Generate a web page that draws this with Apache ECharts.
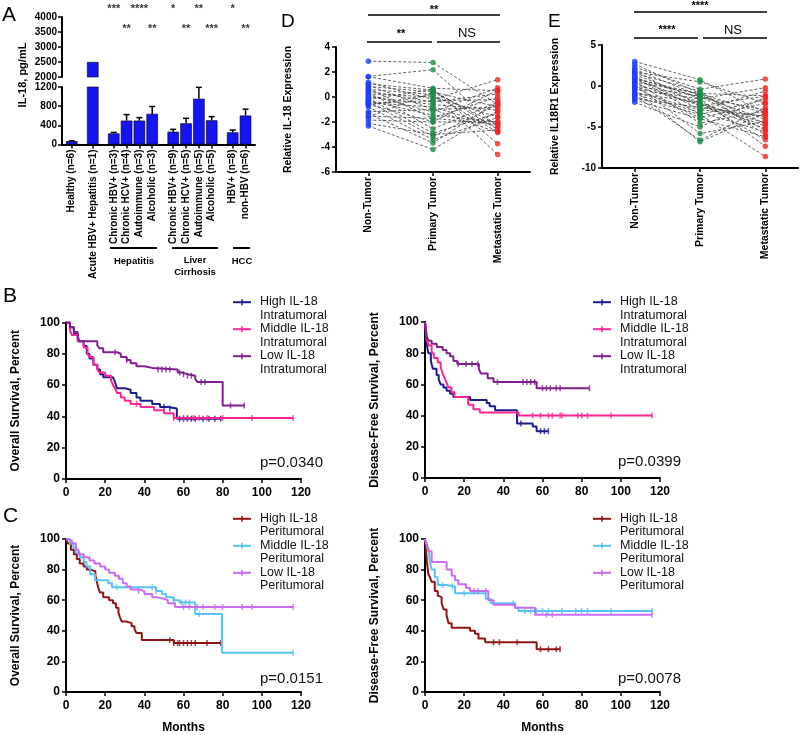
<!DOCTYPE html>
<html><head><meta charset="utf-8">
<script src="https://cdn.jsdelivr.net/npm/echarts@6/dist/echarts.min.js"></script>
<style>html,body{margin:0;padding:0;background:#fff}#c{width:800px;height:735px}</style>
</head><body><div id="c"></div>
<script>
const FONT = '"Liberation Sans", Arial, Helvetica, sans-serif';

// ---------- Panel A data ----------
const aCategories = ['Healthy (n=6)', 'Acute HBV+ Hepatitis (n=1)', 'Chronic HBV+ (n=3)', 'Chronic HCV+ (n=4)', 'Autoimmune (n=3)', 'Alcoholic (n=3)', 'Chronic HBV+ (n=9)', 'Chronic HCV+ (n=5)', 'Autoimmune (n=5)', 'Alcoholic (n=5)', 'HBV+ (n=8)', 'non-HBV (n=6)'];
const aGroupOf = [0, 1, 2, 2, 2, 2, 3, 3, 3, 3, 4, 4];
const aValues = [70, 2500, 232, 498, 498, 639, 267, 442, 954, 505, 253, 604];
const aErrors = [6, 0, 21, 127, 63, 154, 49, 105, 239, 77, 49, 133];
const aSig = ['', '', '***', '**', '****', '**', '*', '**', '**', '***', '*', '**'];
const aSigRow = [0, 0, 1, 2, 1, 2, 1, 2, 1, 2, 1, 2];
const aTopTicks = [2000, 2500, 3000, 3500, 4000];
const aBottomTicks = [0, 400, 800, 1200];

// ---------- Panel D data (IL-18) ----------
const dCategories = ['Non-Tumor', 'Primary Tumor', 'Metastatic Tumor'];
const dNonTumor = [2.87,1.65,1.63,1.18,1.05,0.95,0.84,0.66,0.6,0.47,0.4,0.26,0.15,0.0,-0.1,-0.18,-0.3,-0.39,-0.45,-0.58,-0.65,-0.79,-1.18,-1.32,-1.53,-1.6,-1.84,-2.1,-2.32,-0.5];
const dPrimary = [2.76,2.18,0.7,-0.2,0.55,-1.0,0.4,-1.7,0.2,-0.4,-2.55,0.0,-1.2,-0.6,-2.9,0.6,-1.45,-3.16,-0.8,-1.97,0.2,-3.42,-1.0,-3.68,-1.71,0.39,-2.0,-3.0,-4.2,-0.3];
const dMetastatic = [-0.6,-2.4,0.5,1.39,-2.6,-0.8,-2.2,0.0,-2.8,0.26,-0.4,-1.6,0.74,-1.05,-1.3,-3.74,-2.0,-0.58,-2.37,0.53,-4.6,-1.63,-2.84,-0.39,-2.16,-0.79,-1.97,-2.63,-1.1,-0.2];

// ---------- Panel E data (IL18R1) ----------
const eCategories = ['Non-Tumor', 'Primary Tumor', 'Metastatic Tumor'];
const eNonTumor = [3.0,2.66,2.3,2.03,1.9,1.72,1.55,1.39,1.2,1.05,0.9,0.76,0.6,0.5,0.33,0.2,0.0,-0.2,-0.38,-0.5,-0.72,-0.9,-1.14,-1.3,-1.57,-1.7,-1.99,-0.1,1.0,-1.0];
const ePrimary = [0.76,-0.9,-0.4,-1.2,-2.4,0.5,-0.64,-1.57,-2.9,-3.47,-1.0,-2.0,-4.53,-0.93,-2.42,-5.8,-1.23,-3.9,-1.57,-6.8,-2.92,-1.99,-6.6,-3.47,-2.6,-4.0,-5.0,-2.2,-1.4,-3.2];
const eMetastatic = [-3.3,-1.2,0.85,-4.1,-5.2,-2.1,-6.0,-0.2,-3.7,-1.65,-4.6,-6.55,-3.05,-3.35,-1.23,-4.3,-5.4,-2.1,-7.35,-3.3,-0.64,-4.9,-2.6,-8.6,-3.7,-6.2,-1.4,-4.5,-2.9,-5.6];

// ---------- Kaplan-Meier data: [month, survival % from that month] ----------
const osIntraHigh = [[0,100],[2,97],[4,93],[6,88],[9,85],[10.6,80],[12,77],[14,73],[16,70],[17.4,67],[19,65],[24,64],[25,62],[26,58],[30,57],[33,55],[36,52],[38,50],[44,48],[48,46],[52,45],[56.6,38.5],[79,38.5]];
const osIntraMid = [[0,100],[2,95],[3,92],[6,88],[9,84],[11,80],[12,78],[14,73],[16,70],[17,68],[20,66],[23,63],[24,60],[25,58],[26,55],[28,52],[30,50],[33,48],[38,46],[45,44],[50,42],[55,39],[116,39]];
const osIntraLow = [[0,100],[2,97],[4,94],[6,91],[7,88],[16,85.5],[17,83.5],[19,81],[26,80],[28,78],[31,76],[33,74],[36,72],[40,71],[44,70],[57,68],[59,67],[62,66],[66,64],[67,62],[80,47],[91,47]];
const dfsIntraHigh = [[0,100],[0.5,92],[1,85],[1.7,80],[3,75],[4,70],[5.9,66],[7,63],[8,60],[9.4,58],[11,56],[12.8,54],[14.5,52],[23,50],[31.5,48],[33,46],[35.8,43.5],[47,35],[55,33],[57,30],[63,30]];
const dfsIntraMid = [[0,100],[0.5,93],[1,88],[2,85],[3.4,80],[4.5,77],[6.5,74],[8,71],[9,67],[10,64],[11,61],[12,58],[13.5,55],[15,52],[22,47],[24.7,44],[28,42],[47.8,40],[116,40]];
const dfsIntraLow = [[0,100],[0.5,95],[1,90],[2,88],[3.4,86],[6,84],[9,82],[11,80],[12.8,78],[14.5,75],[16.5,73],[27.5,70],[28.5,67],[32,64],[35,61.5],[57,57.5],[84,57.5]];
const osPeriHigh = [[0,100],[1,97],[2.5,93],[4,90],[5.5,87],[7,84],[9,82],[10.6,80],[12,79],[15,76],[15.8,72],[16.5,68],[17.3,65],[19,62],[22,60],[24,58],[25.5,55],[26.8,52],[27.5,49],[28.5,46],[31,45],[33.5,43],[35,41],[36,38.5],[38.7,34],[55,32],[79.6,32]];
const osPeriMid = [[0,100],[2,97],[3.7,94],[5,91],[7,88],[9,85],[10.5,82],[12.3,77],[14.8,73],[21.6,71],[23.5,68.5],[46,66],[49,64],[51,62],[54.9,60],[58,58.5],[66,51],[79.6,25.7],[116,25.7]];
const osPeriLow = [[0,100],[1,99],[3,97],[5,93],[6.5,90],[9,88],[12,86],[14.5,84],[17.5,82],[20,80],[22,78],[25,76],[27,74],[29,71],[31,69],[33,67],[37,66],[40,64],[44,62],[46,61],[50,60],[52,58],[55.7,55.5],[116,55.5]];
const dfsPeriHigh = [[0,100],[0.5,92],[1,85],[1.7,77],[2.5,75],[3.4,72],[5,66],[6.5,63],[7.5,62],[8.5,58],[9.5,54],[11,50],[12,45],[13.6,42],[23,40],[25.5,38],[27.3,35],[30.7,32.5],[57,28],[69,28]];
const dfsPeriMid = [[0,100],[0.7,97],[1.7,94],[2.5,85],[3.4,80],[5,75],[6.5,70],[11,69],[15.3,64.5],[31,61],[33.5,58],[46,55],[47.7,53],[116,53]];
const dfsPeriLow = [[0,100],[1,96],[1.7,92],[3.4,85],[11,80],[13.6,76],[15.3,73],[17,70.5],[21,68],[23,66],[32.3,60],[35,57],[46,55],[56.2,50.5],[116,50.5]];

const osIntraHighCensor = [50,53,58,60,62,64,66,70,73,76,79];
const osIntraMidCensor = [36,55,60,62,65,68,72,80,95,116];
const osIntraLowCensor = [25,31,47,49,51,53,58,60,62,64,69,71,84,91];
const dfsIntraHighCensor = [49,59,61,63];
const dfsIntraMidCensor = [55,59,63,65,69,70,78,80,83,95,116];
const dfsIntraLowCensor = [17,21,24,27,37,50,52,54,56,60,62,64,67,69,84];
const osPeriHighCensor = [53,55,57,58,60,62,64,66,72,79];
const osPeriMidCensor = [26,44,46,55,59,61,63,68,116];
const osPeriLowCensor = [37,60,63,67,70,76,80,90,95,116];
const dfsPeriHighCensor = [35,38,47,59,63,67,69];
const dfsPeriMidCensor = [9,14,20,45,51,54,57,60,63,70,77,80,83,95,116];
const dfsPeriLowCensor = [25,27,31,62,65,116];

const intraNames = ['High IL-18\nIntratumoral', 'Middle IL-18\nIntratumoral', 'Low IL-18\nIntratumoral'];
const periNames = ['High IL-18\nPeritumoral', 'Middle IL-18\nPeritumoral', 'Low IL-18\nPeritumoral'];
const intraColors = ['#1c1c90', '#ff2590', '#801f8f'];
const periColors = ['#8e1515', '#55c3f3', '#c86cf2'];
const pValues = ['p=0.0340', 'p=0.0399', 'p=0.0151', 'p=0.0078'];

// ---------- helpers ----------
const aPos = aValues.map((v, i) => i + aGroupOf[i] * 0.64);
function aLabelAt(v) {
  let best = 0;
  aPos.forEach((p, i) => { if (Math.abs(p - v) < Math.abs(aPos[best] - v)) best = i; });
  return aCategories[best];
}
function axis(o) {
  const type = o.type || 'value';
  const labelBase = { show: true, color: '#000', fontFamily: FONT, fontWeight: 'bold', fontSize: o.labelSize || 10, margin: o.margin || 6, rotate: o.rotate || 0 };
  if (type === 'value') labelBase.formatter = v => String(v);
  return {
    gridIndex: o.grid, type: type, min: o.min, max: o.max, interval: o.interval,
    data: o.data, inverse: o.inverse || false, show: o.show !== false,
    boundaryGap: o.boundaryGap,
    name: o.name || '', nameLocation: 'middle', nameGap: o.nameGap || 30,
    nameTextStyle: { fontFamily: FONT, fontWeight: 'bold', fontSize: o.nameSize || 12, color: '#000' },
    axisLine: { show: true, onZero: false, lineStyle: { color: '#000', width: 2 } },
    axisTick: Object.assign({ show: true, length: 4, inside: false, alignWithLabel: true, lineStyle: { color: '#000', width: 1.5 } }, o.tickExtra || {}),
    axisLabel: Object.assign(labelBase, o.labelExtra || {}),
    splitLine: { show: false }
  };
}
function stepData(curve) {
  const out = [];
  curve.forEach((pt, i) => { if (i > 0) out.push([pt[0], curve[i - 1][1]]); out.push(pt); });
  return out;
}
function survAt(curve, t) {
  let s = curve[0][1];
  curve.forEach(pt => { if (pt[0] <= t) s = pt[1]; });
  return s;
}

// ---------- layout ----------
const grids = [
  { left: 62, top: 0, width: 193, height: 32 },        // 0 A asterisks
  { left: 62, top: 17, width: 193, height: 60 },       // 1 A top segment
  { left: 62, top: 87, width: 193, height: 57.5 },     // 2 A bottom segment
  { left: 336, top: 47, width: 194, height: 125 },     // 3 D
  { left: 602, top: 45, width: 196, height: 123 },     // 4 E
  { left: 66, top: 322.5, width: 235, height: 156.5 }, // 5 B left
  { left: 425, top: 322, width: 235, height: 156 },    // 6 B right
  { left: 66, top: 539, width: 235, height: 156 },     // 7 C left
  { left: 425, top: 539, width: 235, height: 156 }     // 8 C right
];

const xAxes = [
  axis({ grid: 0, min: -0.76, max: 14.3, show: false }),
  axis({ grid: 1, min: -0.76, max: 14.3, show: false }),
  axis({ grid: 2, min: -0.76, max: 14.3, rotate: 90, margin: 5, labelSize: 10,
    tickExtra: { customValues: aPos }, labelExtra: { customValues: aPos, formatter: v => aLabelAt(v) } }),
  axis({ grid: 3, type: 'category', data: dCategories, boundaryGap: true, rotate: 90, margin: 5, labelSize: 10.5 }),
  axis({ grid: 4, type: 'category', data: eCategories, boundaryGap: true, rotate: 90, margin: 5, labelSize: 10.5 }),
  axis({ grid: 5, min: 0, max: 120, interval: 20, labelSize: 12, margin: 8 }),
  axis({ grid: 6, min: 0, max: 120, interval: 20, labelSize: 12, margin: 8 }),
  axis({ grid: 7, min: 0, max: 120, interval: 20, labelSize: 12, margin: 8, name: 'Months', nameGap: 30, nameSize: 12 }),
  axis({ grid: 8, min: 0, max: 120, interval: 20, labelSize: 12, margin: 8, name: 'Months', nameGap: 30, nameSize: 12 })
];
const yAxes = [
  axis({ grid: 0, min: 0, max: 32, inverse: true, show: false }),
  axis({ grid: 1, min: aTopTicks[0], max: aTopTicks[aTopTicks.length - 1], interval: 500, labelSize: 10, margin: 5 }),
  axis({ grid: 2, min: aBottomTicks[0], max: aBottomTicks[aBottomTicks.length - 1], interval: 400, labelSize: 10, margin: 5 }),
  axis({ grid: 3, min: -6, max: 4, interval: 2, labelSize: 10, margin: 6, name: 'Relative IL-18 Expression', nameGap: 42, nameSize: 10.5 }),
  axis({ grid: 4, min: -10, max: 5, interval: 5, labelSize: 10, margin: 6, name: 'Relative IL18R1 Expression', nameGap: 41, nameSize: 10.5 }),
  axis({ grid: 5, min: 0, max: 100, interval: 20, labelSize: 12, margin: 6, name: 'Overall Survival, Percent', nameGap: 44, nameSize: 12 }),
  axis({ grid: 6, min: 0, max: 100, interval: 20, labelSize: 12, margin: 6, name: 'Disease-Free Survival, Percent', nameGap: 44, nameSize: 12 }),
  axis({ grid: 7, min: 0, max: 100, interval: 20, labelSize: 12, margin: 6, name: 'Overall Survival, Percent', nameGap: 44, nameSize: 12 }),
  axis({ grid: 8, min: 0, max: 100, interval: 20, labelSize: 12, margin: 6, name: 'Disease-Free Survival, Percent', nameGap: 44, nameSize: 12 })
];

const series = [];
const BAR_COLOR = '#1414f5';
// A significance stars
series.push({
  type: 'scatter', xAxisIndex: 0, yAxisIndex: 0, symbolSize: 1, silent: true,
  itemStyle: { color: 'rgba(0,0,0,0)' },
  data: aPos.map((x, i) => ({ value: [x, aSigRow[i] === 1 ? 9 : 29], sig: aSig[i] })).filter((d, i) => aSig[i]),
  label: { show: true, position: 'inside', formatter: p => p.data.sig, fontFamily: FONT, fontWeight: 'bold', fontSize: 11, color: '#000' }
});
// A top segment bar (values above the break)
series.push({
  type: 'bar', xAxisIndex: 1, yAxisIndex: 1, barWidth: 11.5, clip: true,
  itemStyle: { color: BAR_COLOR, borderColor: '#000', borderWidth: 0.6 },
  data: aPos.map((x, i) => [x, aValues[i]]).filter(d => d[1] > aTopTicks[0])
});
// A bottom segment bars
series.push({
  type: 'bar', xAxisIndex: 2, yAxisIndex: 2, barWidth: 11.5, clip: true,
  itemStyle: { color: BAR_COLOR, borderColor: '#000', borderWidth: 0.6 },
  data: aPos.map((x, i) => [x, aValues[i]])
});
// A error bars
series.push({
  type: 'custom', xAxisIndex: 2, yAxisIndex: 2, silent: true, z: 3,
  encode: { x: 0, y: [1, 2] },
  data: aPos.map((x, i) => [x, aValues[i], aValues[i] + aErrors[i]]).filter((d, i) => aErrors[i] > 0 && aValues[i] < 1200),
  renderItem: (params, api) => {
    const x = api.value(0), lo = api.value(1), hi = api.value(2);
    const p0 = api.coord([x, lo]), p1 = api.coord([x, hi]);
    return { type: 'group', children: [
      { type: 'line', shape: { x1: p0[0], y1: p0[1], x2: p1[0], y2: p1[1] }, style: { stroke: '#000', lineWidth: 1.5 } },
      { type: 'line', shape: { x1: p1[0] - 3, y1: p1[1], x2: p1[0] + 3, y2: p1[1] }, style: { stroke: '#000', lineWidth: 1.5 } }
    ] };
  }
});

// D & E paired plots
const pointColors = ['#1f3cff', '#1e8c4a', '#ff2020'];
function pairedPanel(ax, nt, pt, mt) {
  nt.forEach((v, i) => series.push({
    type: 'line', xAxisIndex: ax, yAxisIndex: ax, data: [v, pt[i], mt[i]], symbol: 'none', silent: true, z: 2,
    lineStyle: { color: '#3a3a3a', width: 0.8, type: [3, 2] }
  }));
  [nt, pt, mt].forEach((arr, k) => series.push({
    type: 'scatter', xAxisIndex: ax, yAxisIndex: ax, symbolSize: 5.5, z: 4,
    itemStyle: { color: pointColors[k] }, data: arr.map(v => [k, v])
  }));
}
pairedPanel(3, dNonTumor, dPrimary, dMetastatic);
pairedPanel(4, eNonTumor, ePrimary, eMetastatic);

// KM panels
const kmPanels = [
  { ax: 5, curves: [osIntraHigh, osIntraMid, osIntraLow], censor: [osIntraHighCensor, osIntraMidCensor, osIntraLowCensor], names: intraNames, colors: intraColors },
  { ax: 6, curves: [dfsIntraHigh, dfsIntraMid, dfsIntraLow], censor: [dfsIntraHighCensor, dfsIntraMidCensor, dfsIntraLowCensor], names: intraNames, colors: intraColors },
  { ax: 7, curves: [osPeriHigh, osPeriMid, osPeriLow], censor: [osPeriHighCensor, osPeriMidCensor, osPeriLowCensor], names: periNames, colors: periColors },
  { ax: 8, curves: [dfsPeriHigh, dfsPeriMid, dfsPeriLow], censor: [dfsPeriHighCensor, dfsPeriMidCensor, dfsPeriLowCensor], names: periNames, colors: periColors }
];
kmPanels.forEach(p => {
  [2, 0, 1].forEach(k => {
    series.push({
      type: 'line', name: p.names[k], xAxisIndex: p.ax, yAxisIndex: p.ax, data: stepData(p.curves[k]),
      symbol: 'none', silent: true, z: 3 + k * 0.1, lineStyle: { color: p.colors[k], width: 2 }
    });
    series.push({
      type: 'scatter', xAxisIndex: p.ax, yAxisIndex: p.ax, symbol: 'rect', symbolSize: [1.5, 6], silent: true, z: 3 + k * 0.1,
      itemStyle: { color: p.colors[k] }, data: p.censor[k].map(t => [t, survAt(p.curves[k], t)])
    });
  });
});

// ---------- annotations ----------
const g = [];
function text(x, y, t, font, opt) {
  g.push(Object.assign({ type: 'text', x: x, y: y, silent: true,
    style: Object.assign({ text: t, font: font, fill: '#000', textAlign: 'left', textVerticalAlign: 'middle' }, (opt && opt.style) || {}) },
    opt && opt.rotation ? { rotation: opt.rotation } : {}));
}
function line(x1, y1, x2, y2, w, c) {
  g.push({ type: 'line', silent: true, shape: { x1, y1, x2, y2 }, style: { stroke: c || '#000', lineWidth: w || 1.5 } });
}
// panel letters
text(2, 15, 'A', '21px ' + FONT);
text(281, 22, 'D', '19px ' + FONT);
text(548, 22, 'E', '19px ' + FONT);
text(3, 296, 'B', '21px ' + FONT);
text(3, 516, 'C', '21px ' + FONT);
// A axis name
text(23, 75, 'IL-18, pg/mL', 'bold 11px ' + FONT, { rotation: Math.PI / 2, style: { textAlign: 'center' } });
// A group brackets
line(110, 248, 157, 248, 2); line(172, 248, 218, 248, 2); line(233, 248, 250, 248, 2);
text(134, 261, 'Hepatitis', 'bold 9.5px ' + FONT, { style: { textAlign: 'center' } });
text(195, 260.5, 'Liver', 'bold 9.5px ' + FONT, { style: { textAlign: 'center' } });
text(195, 272, 'Cirrhosis', 'bold 9.5px ' + FONT, { style: { textAlign: 'center' } });
text(242, 261, 'HCC', 'bold 9.5px ' + FONT, { style: { textAlign: 'center' } });
// D significance
line(368, 15, 500, 15, 1.5); line(367, 42, 432, 42, 1.5); line(437, 42, 500, 42, 1.5);
text(434, 9.5, '**', 'bold 11px ' + FONT, { style: { textAlign: 'center' } });
text(401, 33.5, '**', 'bold 11px ' + FONT, { style: { textAlign: 'center' } });
text(467, 33.5, 'NS', '13px ' + FONT, { style: { textAlign: 'center' } });
// E significance
line(634, 12, 767, 12, 1.5); line(634, 38, 698, 38, 1.5); line(703, 38, 767, 38, 1.5);
text(700, 5.5, '****', 'bold 11px ' + FONT, { style: { textAlign: 'center' } });
text(667, 29.5, '****', 'bold 11px ' + FONT, { style: { textAlign: 'center' } });
text(733, 30, 'NS', '13px ' + FONT, { style: { textAlign: 'center' } });
// KM legends and p-values
const legendPos = [[233, 301.7], [593, 301.7], [233, 518.3], [593, 518.3]];
const pPos = [[260, 463], [618, 462], [260, 679], [618, 679]];
kmPanels.forEach((p, j) => {
  const [lx, ly] = legendPos[j];
  p.names.forEach((nm, k) => {
    const y0 = ly + k * 27;
    line(lx, y0 + 0.5, lx + 18, y0 + 0.5, 2, p.colors[k]);
    line(lx + 9, y0 - 2.5, lx + 9, y0 + 3.5, 1.5, p.colors[k]);
    const parts = nm.split('\n');
    text(lx + 27, y0, parts[0], '12.5px ' + FONT, { style: { fill: '#111' } });
    text(lx + 27, y0 + 13.4, parts[1], '12.5px ' + FONT, { style: { fill: '#111' } });
  });
  text(pPos[j][0], pPos[j][1], pValues[j], '15px ' + FONT, { style: { fill: '#111' } });
});

const chart = echarts.init(document.getElementById('c'));
chart.setOption({
  animation: false, backgroundColor: '#fff',
  grid: grids, xAxis: xAxes, yAxis: yAxes, series: series, graphic: { elements: g }
});
</script></body></html>
